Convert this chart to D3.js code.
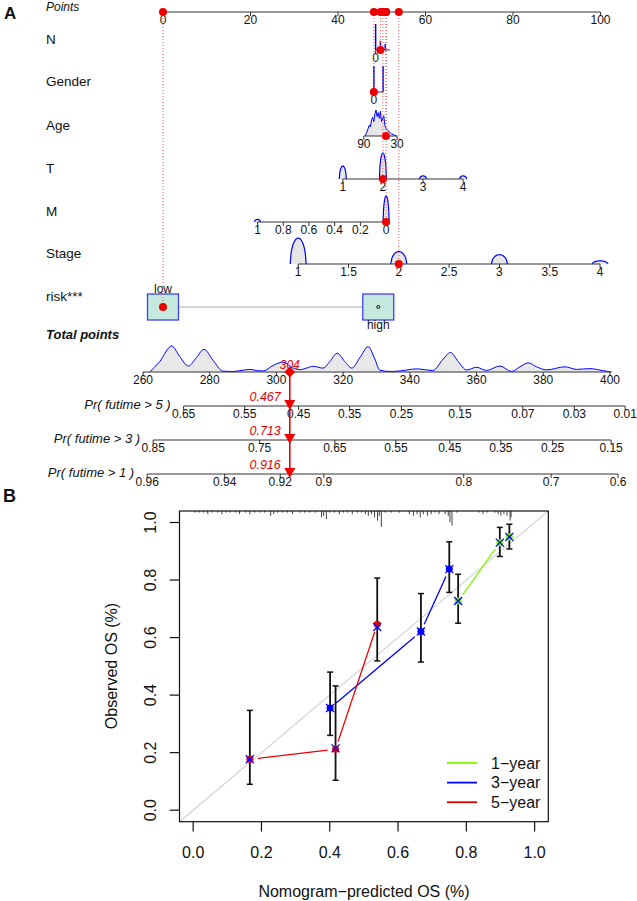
<!DOCTYPE html>
<html><head><meta charset="utf-8">
<script src="https://cdnjs.cloudflare.com/ajax/libs/d3/7.8.5/d3.min.js"></script>
<style>
html,body{margin:0;padding:0;background:#fff;}
svg{display:block;}
text{font-family:"Liberation Sans",Arial,Helvetica,sans-serif;fill:#111;}
</style></head><body>
<svg id="chart" width="637" height="901"></svg>
<script>
// ================= DATA : nomogram (A) =================
const pointsTicks = [0, 20, 40, 60, 80, 100];
const rowNames = ["N", "Gender", "Age", "T", "M", "Stage", "risk***"];

const nRange = [0, 3];
const nPointsRange = [48.6, 51.9];
const nTicks = [0];
const nLevels = [0, 1, 2];
const nFreq = [1.0, 0.35, 0.23];
const nPatient = 1;

const genderRange = [0, 1];
const genderPointsRange = [48.2, 50.3];
const genderTicks = [0];
const genderLevels = [0, 1];
const genderFreq = [1.0, 1.0];
const genderPatient = 0;

const ageRange = [90, 30];
const agePointsRange = [45.9, 53.5];
const ageTicks = [90, 30];
const ageDensX = [88, 85, 82, 80, 78, 76, 74, 72, 70, 68, 66, 64, 62, 60, 58, 56, 54, 52, 50, 48, 46, 44, 42, 40, 37, 34, 31];
const ageDensY = [0, 0.12, 0.3, 0.42, 0.35, 0.62, 0.72, 0.55, 0.85, 1.0, 0.75, 0.9, 0.68, 0.95, 0.55, 0.7, 0.78, 0.4, 0.3, 0.25, 0.2, 0.15, 0.12, 0.08, 0.06, 0.03, 0];
const agePatient = 50;

const tRange = [1, 4];
const tPointsRange = [41.1, 68.6];
const tTicks = [1, 2, 3, 4];
const tLevels = [1, 2, 3, 4];
const tFreq = [0.5, 1.0, 0.12, 0.12];
const tPatient = 2;

const mRange = [1, 0];
const mPointsRange = [21.6, 51.0];
const mTicks = [1, 0.8, 0.6, 0.4, 0.2, 0];
const mLevels = [0, 1];
const mFreq = [1.0, 0.1];
const mPatient = 0;

const stageRange = [1, 4];
const stagePointsRange = [30.9, 99.9];
const stageTicks = [1, 1.5, 2, 2.5, 3, 3.5, 4];
const stageLevels = [1, 2, 3, 4];
const stageFreq = [1.0, 0.48, 0.36, 0.12];
const stagePatient = 2;

const riskLevels = ["low", "high"];
const riskPoints = [0, 49.2];
const riskPatient = "low";

const totalTicks = [260, 280, 300, 320, 340, 360, 380, 400];
const totalDensX = [262, 265, 268.6, 271, 273.6, 276, 278.3, 281, 284, 287, 289, 292, 294, 296, 299, 302, 305, 307, 309, 311, 314, 316, 318.2, 320.5, 322.6, 325, 327.5, 329.5, 331, 334, 337, 342, 346.9, 350, 352.2, 354.5, 357, 360, 363, 367, 370.5, 373, 375.5, 378, 381, 386.5, 390, 394, 398, 400.5];
const totalDensY = [0, 0.4, 1.0, 0.6, 0.23, 0.55, 0.87, 0.45, 0.03, 0.02, 0.05, 0.1, 0.06, 0.04, 0.25, 0.38, 0.15, 0.09, 0.15, 0.22, 0.15, 0.4, 0.72, 0.4, 0.15, 0.55, 0.97, 0.5, 0.07, 0.02, 0.04, 0.12, 0.06, 0.5, 0.75, 0.4, 0.08, 0.18, 0.06, 0.23, 0.02, 0.2, 0.35, 0.2, 0.08, 0.2, 0.1, 0.13, 0.05, 0];
const totalPatient = 304;

const probLabels = ["Pr( futime > 5 )", "Pr( futime > 3 )", "Pr( futime > 1 )"];
const probTicks5 = [0.65, 0.55, 0.45, 0.35, 0.25, 0.15, 0.07, 0.03, 0.01];
const probTicks3 = [0.85, 0.75, 0.65, 0.55, 0.45, 0.35, 0.25, 0.15];
const probTicks1 = [0.96, 0.94, 0.92, 0.9, 0.8, 0.7, 0.6];
const probPatient = [0.467, 0.713, 0.916];
const coxSlope = 0.0179; // change of log(-log S) per total point

// ================= DATA : calibration (B) =================
const calTicks = [0, 0.2, 0.4, 0.6, 0.8, 1.0];
const pred1 = [0.776, 0.898, 0.926], obs1 = [0.727, 0.930, 0.950], lo1 = [0.65, 0.882, 0.908], hi1 = [0.82, 0.983, 0.994], corr1 = [0.727, 0.930, 0.950];
const pred3 = [0.401, 0.667, 0.750], obs3 = [0.355, 0.621, 0.838], lo3 = [0.26, 0.515, 0.757], hi3 = [0.48, 0.753, 0.933], corr3 = [0.355, 0.621, 0.838];
const pred5 = [0.166, 0.417, 0.539], obs5 = [0.177, 0.212, 0.646], lo5 = [0.09, 0.104, 0.519], hi5 = [0.347, 0.432, 0.807], corr5 = [0.177, 0.215, 0.637];
const legendLabels = ["1\u2212year", "3\u2212year", "5\u2212year"];
const rugPred = [0.005, 0.017, 0.031, 0.043, 0.055, 0.072, 0.084, 0.096, 0.107, 0.125, 0.136, 0.154, 0.166, 0.18, 0.195, 0.209, 0.227, 0.236, 0.247, 0.262, 0.276, 0.291, 0.312, 0.326, 0.341, 0.358, 0.376, 0.382, 0.39, 0.4, 0.414, 0.428, 0.44, 0.452, 0.466, 0.481, 0.493, 0.504, 0.513, 0.522, 0.531, 0.54, 0.545, 0.551, 0.563, 0.58, 0.604, 0.633, 0.645, 0.656, 0.665, 0.674, 0.686, 0.697, 0.709, 0.72, 0.738, 0.747, 0.752, 0.758, 0.772, 0.837, 0.849, 0.861, 0.884, 0.893, 0.901, 0.91, 0.919, 0.928, 0.931];
const rugCount = [1, 1, 1, 2, 1, 1, 2, 1, 1, 1, 2, 1, 2, 1, 1, 1, 3, 2, 1, 1, 1, 2, 1, 1, 1, 1, 4, 3, 5, 1, 1, 2, 1, 1, 2, 1, 1, 2, 3, 2, 4, 6, 3, 10, 1, 1, 1, 2, 3, 2, 4, 2, 3, 2, 1, 2, 2, 3, 7, 9, 1, 1, 2, 1, 1, 2, 3, 2, 3, 6, 4];

// ================= DRAWING =================
const svg = d3.select("#chart");
const RED = "#ee0000", BLUE = "#0000ff", GREEN = "#7cfc00";
const labelX = 46, densH = 26;
const pointsY = 12, totalY = 372, probY = [406, 440, 474];
const rowY = [50, 92, 136, 179, 222, 264, 307];

const xp = d3.scaleLinear().domain([0, 100]).range([163, 600.5]);
const xt = d3.scaleLinear().domain([260, 400]).range([143, 610]);
const cll = p => Math.log(-Math.log(p));

// panel letters
svg.append("text").attr("x", 4).attr("y", 19).attr("font-size", 17).attr("font-weight", "bold").text("A");
svg.append("text").attr("x", 3).attr("y", 502).attr("font-size", 18).attr("font-weight", "bold").text("B");

function axisLine(g, x1, x2, y) {
  g.append("line").attr("x1", x1).attr("x2", x2).attr("y1", y).attr("y2", y)
    .attr("stroke", "#333").attr("stroke-width", 1);
}
function axisTicks(g, xs, y, fmt, fs) {
  g.selectAll(null).data(xs).join("line")
    .attr("x1", d => d.x).attr("x2", d => d.x).attr("y1", y).attr("y2", y + 4)
    .attr("stroke", "#333");
  g.selectAll(null).data(xs).join("text")
    .attr("x", d => d.x).attr("y", y + 12).attr("text-anchor", "middle")
    .attr("font-size", fs || 12).text(d => d.label);
}

const A = svg.append("g");

// Points row
A.append("text").attr("x", labelX).attr("y", 11).attr("font-size", 12).attr("font-style", "italic").text("Points");
axisLine(A, xp(0), xp(100), pointsY);
axisTicks(A, pointsTicks.map(v => ({ x: xp(v), label: String(v) })), pointsY);

// row labels
rowNames.forEach((n, i) => {
  A.append("text").attr("x", labelX).attr("y", rowY[i] - 11 + 4.8).attr("font-size", 13.5).text(n);
});

// variable definitions built from data arrays
const vars = [
  { y: rowY[0], sc: d3.scaleLinear().domain(nRange).range(nPointsRange), dom: nRange, ticks: nTicks, kind: "spike", levels: nLevels, freq: nFreq, patient: nPatient },
  { y: rowY[1], sc: d3.scaleLinear().domain(genderRange).range(genderPointsRange), dom: genderRange, ticks: genderTicks, kind: "spike", levels: genderLevels, freq: genderFreq, patient: genderPatient },
  { y: rowY[2], sc: d3.scaleLinear().domain(ageRange).range(agePointsRange), dom: ageRange, ticks: ageTicks, kind: "dens", dx: ageDensX, dy: ageDensY, patient: agePatient },
  { y: rowY[3], sc: d3.scaleLinear().domain(tRange).range(tPointsRange), dom: tRange, ticks: tTicks, kind: "bump", levels: tLevels, freq: tFreq, half: 3.5, patient: tPatient },
  { y: rowY[4], sc: d3.scaleLinear().domain(mRange).range(mPointsRange), dom: mRange, ticks: mTicks, kind: "bump", levels: mLevels, freq: mFreq, half: 3, patient: mPatient },
  { y: rowY[5], sc: d3.scaleLinear().domain(stageRange).range(stagePointsRange), dom: stageRange, ticks: stageTicks, kind: "bump", levels: stageLevels, freq: stageFreq, half: 8, patient: stagePatient }
];

const patientPts = [];
vars.forEach(v => {
  const X = d => xp(v.sc(d));
  if (v.kind === "spike") {
    A.selectAll(null).data(v.levels.map((l, i) => ({ l, f: v.freq[i] }))).join("line")
      .attr("x1", d => X(d.l)).attr("x2", d => X(d.l))
      .attr("y1", v.y).attr("y2", d => v.y - d.f * densH)
      .attr("stroke", BLUE).attr("stroke-width", 1.5);
  } else if (v.kind === "dens") {
    const pts = v.dx.map((a, i) => [X(a), v.y - v.dy[i] * densH]);
    const area = d3.area().x(d => d[0]).y0(v.y).y1(d => d[1]);
    A.append("path").attr("d", area(pts)).attr("fill", "#e6e6e6");
    A.append("path").attr("d", d3.line()(pts)).attr("fill", "none").attr("stroke", BLUE).attr("stroke-width", 1);
  } else if (v.kind === "bump") {
    v.levels.forEach((l, i) => {
      const cx = X(l), h = v.freq[i] * densH, pts = [];
      for (let k = 0; k <= 16; k++) {
        const u = -1 + k / 8;
        pts.push([cx + u * v.half, v.y - h * Math.pow(Math.max(0, 1 - u * u), 0.55)]);
      }
      A.append("path").attr("d", d3.area().x(d => d[0]).y0(v.y).y1(d => d[1])(pts)).attr("fill", "#e6e6e6");
      A.append("path").attr("d", d3.line()(pts)).attr("fill", "none").attr("stroke", BLUE).attr("stroke-width", 1.2);
    });
  }
  axisLine(A, X(v.dom[0]), X(v.dom[1]), v.y);
  axisTicks(A, v.ticks.map(t => ({ x: X(t), label: String(t) })), v.y);
  patientPts.push({ pts: v.sc(v.patient), y: v.y });
});

// risk boxes
const riskY = rowY[6];
A.append("line").attr("x1", xp(riskPoints[0]) + 15.5).attr("x2", xp(riskPoints[1]) - 15.5)
  .attr("y1", riskY).attr("y2", riskY).attr("stroke", "#aaaaaa");
riskLevels.forEach((lv, i) => {
  const cx = xp(riskPoints[i]);
  A.append("rect").attr("x", cx - 15.5).attr("y", riskY - 13).attr("width", 31).attr("height", 26)
    .attr("fill", "#c6e9df").attr("stroke", "#3f3fff").attr("stroke-width", 1.3);
  A.append("text").attr("x", cx).attr("y", i === 0 ? riskY - 14 : riskY + 22)
    .attr("text-anchor", "middle").attr("font-size", 12).text(lv);
  if (lv !== riskPatient) {
    A.append("circle").attr("cx", cx).attr("cy", riskY).attr("r", 1.5).attr("fill", "none").attr("stroke", "#111");
  }
});
patientPts.push({ pts: riskPoints[riskLevels.indexOf(riskPatient)], y: riskY });

// dotted projection lines + dots
patientPts.forEach(p => {
  A.append("line").attr("x1", xp(p.pts)).attr("x2", xp(p.pts)).attr("y1", pointsY).attr("y2", p.y)
    .attr("stroke", "#ff5555").attr("stroke-width", 1).attr("stroke-dasharray", "1,2");
});
patientPts.forEach(p => {
  A.append("circle").attr("cx", xp(p.pts)).attr("cy", p.y).attr("r", 4).attr("fill", RED);
  A.append("circle").attr("cx", xp(p.pts)).attr("cy", pointsY).attr("r", 4).attr("fill", RED);
});

// Total points
A.append("text").attr("x", labelX).attr("y", 339).attr("font-size", 13).attr("font-weight", "bold")
  .attr("font-style", "italic").text("Total points");
const tpts = totalDensX.map((a, i) => [xt(a), totalY - totalDensY[i] * densH]);
A.append("path").attr("d", d3.area().x(d => d[0]).y0(totalY).y1(d => d[1]).curve(d3.curveMonotoneX)(tpts)).attr("fill", "#e8e8e8");
A.append("path").attr("d", d3.line().curve(d3.curveMonotoneX)(tpts)).attr("fill", "none").attr("stroke", BLUE).attr("stroke-width", 1);
axisLine(A, xt(totalTicks[0]), xt(totalTicks[totalTicks.length - 1]), totalY);
axisTicks(A, totalTicks.map(t => ({ x: xt(t), label: String(t) })), totalY);

// probability axes
const probTickSets = [probTicks5, probTicks3, probTicks1];
const probX = (p, i) => xt(totalPatient + (cll(p) - cll(probPatient[i])) / coxSlope);
probTickSets.forEach((ticks, i) => {
  const y = probY[i];
  axisLine(A, probX(ticks[0], i), probX(ticks[ticks.length - 1], i), y);
  axisTicks(A, ticks.map(t => ({ x: probX(t, i), label: String(t) })), y);
  A.append("text").attr("x", probX(ticks[0], i) - 13).attr("y", y + 3).attr("text-anchor", "end")
    .attr("font-size", 13).attr("font-style", "italic").text(probLabels[i]);
});

// patient total & predictions
const px = xt(totalPatient);
A.append("line").attr("x1", px).attr("x2", px).attr("y1", totalY).attr("y2", probY[2] + 2)
  .attr("stroke", RED).attr("stroke-width", 1.6);
A.append("path").attr("d", `M${px},${totalY - 5.5}L${px + 5.5},${totalY}L${px},${totalY + 5.5}L${px - 5.5},${totalY}Z`).attr("fill", RED);
A.append("text").attr("x", px).attr("y", totalY - 3).attr("text-anchor", "middle").attr("font-size", 12)
  .attr("font-style", "italic").style("fill", RED).text(String(totalPatient));
probPatient.forEach((p, i) => {
  const y = probY[i];
  A.append("path").attr("d", `M${px - 5.5},${y - 6}L${px + 5.5},${y - 6}L${px},${y + 4}Z`).attr("fill", RED);
  A.append("text").attr("x", px - 9).attr("y", y - 5).attr("text-anchor", "end").attr("font-size", 12.5)
    .attr("font-style", "italic").style("fill", RED).text(p.toFixed(3));
});

// ================= Calibration plot =================
const B = svg.append("g");
const cx = d3.scaleLinear().domain([-0.04, 1.04]).range([179.5, 548.3]);
const cy = d3.scaleLinear().domain([-0.04, 1.04]).range([821.7, 511]);

// diagonal
B.append("line").attr("x1", cx(-0.04)).attr("y1", cy(-0.04)).attr("x2", cx(1.04)).attr("y2", cy(1.04))
  .attr("stroke", "#d3d3d3").attr("stroke-width", 1.2);

// rug
B.selectAll(null).data(rugPred.map((v, i) => ({ v, c: rugCount[i] }))).join("line")
  .attr("x1", d => cx(d.v)).attr("x2", d => cx(d.v)).attr("y1", cy(1.04)).attr("y2", d => cy(1.04) + 1.6 * d.c)
  .attr("stroke", "#111").attr("stroke-width", 0.8);

const series = [
  { pred: pred1, obs: obs1, lo: lo1, hi: hi1, corr: corr1, col: GREEN },
  { pred: pred3, obs: obs3, lo: lo3, hi: hi3, corr: corr3, col: BLUE },
  { pred: pred5, obs: obs5, lo: lo5, hi: hi5, corr: corr5, col: RED }
];
series.forEach(s => {
  // lines with gaps (type = "b")
  for (let i = 0; i < s.pred.length - 1; i++) {
    const x1 = cx(s.pred[i]), y1 = cy(s.obs[i]), x2 = cx(s.pred[i + 1]), y2 = cy(s.obs[i + 1]);
    const L = Math.hypot(x2 - x1, y2 - y1), g = 8;
    if (L > 2 * g) {
      const ux = (x2 - x1) / L, uy = (y2 - y1) / L;
      B.append("line").attr("x1", x1 + ux * g).attr("y1", y1 + uy * g).attr("x2", x2 - ux * g).attr("y2", y2 - uy * g)
        .attr("stroke", s.col).attr("stroke-width", 1.3);
    }
  }
});
series.forEach(s => {
  s.pred.forEach((p, i) => {
    const X = cx(p);
    B.append("line").attr("x1", X).attr("x2", X).attr("y1", cy(s.lo[i])).attr("y2", cy(s.hi[i])).attr("stroke", "#111").attr("stroke-width", 1.8);
    [s.lo[i], s.hi[i]].forEach(v => B.append("line").attr("x1", X - 3).attr("x2", X + 3).attr("y1", cy(v)).attr("y2", cy(v)).attr("stroke", "#111").attr("stroke-width", 1.5));
  });
});
series.forEach(s => {
  s.pred.forEach((p, i) => {
    B.append("circle").attr("cx", cx(p)).attr("cy", cy(s.obs[i])).attr("r", 3.5).attr("fill", s.col);
    const X = cx(p), Y = cy(s.corr[i]), r = 4;
    B.append("path").attr("d", `M${X - r},${Y - r}L${X + r},${Y + r}M${X - r},${Y + r}L${X + r},${Y - r}`)
      .attr("stroke", BLUE).attr("stroke-width", 1.3);
  });
});

// box
B.append("rect").attr("x", 179.5).attr("y", 511).attr("width", 548.3 - 179.5).attr("height", 821.7 - 511)
  .attr("fill", "none").attr("stroke", "#111").attr("stroke-width", 1.2);

// axes ticks
calTicks.forEach(t => {
  B.append("line").attr("x1", cx(t)).attr("x2", cx(t)).attr("y1", 821.7).attr("y2", 831.5).attr("stroke", "#111").attr("stroke-width", 1.2);
  B.append("text").attr("x", cx(t)).attr("y", 858).attr("text-anchor", "middle").attr("font-size", 16).text(t.toFixed(1));
  B.append("line").attr("x1", 169.7).attr("x2", 179.5).attr("y1", cy(t)).attr("y2", cy(t)).attr("stroke", "#111").attr("stroke-width", 1.2);
  B.append("text").attr("transform", `translate(156,${cy(t)}) rotate(-90)`).attr("text-anchor", "middle").attr("font-size", 16).text(t.toFixed(1));
});
B.append("text").attr("x", 364).attr("y", 897).attr("text-anchor", "middle").attr("font-size", 16).text("Nomogram\u2212predicted OS (%)");
B.append("text").attr("transform", "translate(117,666) rotate(-90)").attr("text-anchor", "middle").attr("font-size", 16).text("Observed OS (%)");

// legend
legendLabels.forEach((lab, i) => {
  const y = 763 + i * 19.6;
  B.append("line").attr("x1", 447).attr("x2", 477).attr("y1", y).attr("y2", y).attr("stroke", series[i].col).attr("stroke-width", 1.8);
  B.append("text").attr("x", 491).attr("y", y + 5.7).attr("font-size", 16).text(lab);
});
</script>
</body></html>
